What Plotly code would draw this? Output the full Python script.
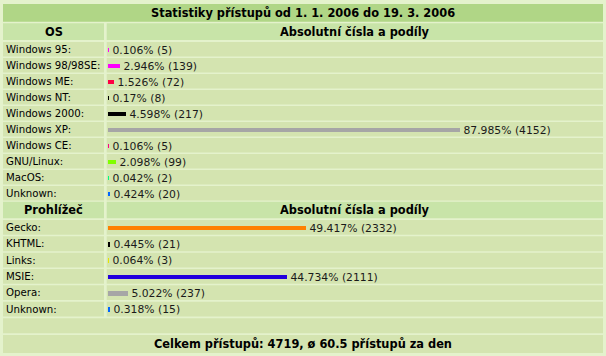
import plotly.graph_objects as go

title_text = "Statistiky přístupů od 1. 1. 2006 do 19. 3. 2006"
footer_text = "Celkem přístupů: 4719, ø 60.5 přístupů za den"
col_header = "Absolutní čísla a podíly"

os_header = "OS"
os_names = ["Windows 95:", "Windows 98/98SE:", "Windows ME:", "Windows NT:", "Windows 2000:",
            "Windows XP:", "Windows CE:", "GNU/Linux:", "MacOS:", "Unknown:"]
os_pct = [0.106, 2.946, 1.526, 0.17, 4.598, 87.985, 0.106, 2.098, 0.042, 0.424]
os_count = [5, 139, 72, 8, 217, 4152, 5, 99, 2, 20]
os_colors = ["#ff00ff", "#ff00ff", "#ff0044", "#000000", "#000000",
             "#a6a6a6", "#ff0088", "#80ff00", "#00ff80", "#0066ff"]

br_header = "Prohlížeč"
br_names = ["Gecko:", "KHTML:", "Links:", "MSIE:", "Opera:", "Unknown:"]
br_pct = [49.417, 0.445, 0.064, 44.734, 5.022, 0.318]
br_count = [2332, 21, 3, 2111, 237, 15]
br_colors = ["#ff8000", "#000000", "#e6e600", "#2200dd", "#a6a6a6", "#0066ff"]

W, H = 606, 356
BG = "#e4f2cc"
TITLE_BG = "#b0d686"
HEAD_BG = "#c8e4a8"
ROW_BG = "#d4e4b0"
FONT = "DejaVu Sans"

L0, L1 = 3, 104      # left column
R0, R1 = 106.7, 603  # right column
BAR0 = 108           # bar axis origin (px)
PX_PER_PCT = 4.0

shapes = []
annotations = []

def rect(x0, x1, y0, y1, color):
    shapes.append(dict(type="rect", xref="x", yref="y", x0=x0, x1=x1, y0=y0, y1=y1,
                       fillcolor=color, line=dict(width=0), layer="below"))

def text(x, y, s, anchor="left", bold=False, size=10.2):
    annotations.append(dict(x=x, y=y, xref="x", yref="y", text=("<b>%s</b>" % s) if bold else s,
                            showarrow=False, xanchor=anchor, yanchor="middle",
                            font=dict(family=FONT, size=size, color="#000000")))

HB = 11.4
# title
rect(L0, R1, 4, 21.7, TITLE_BG)
text((L0 + R1) / 2, 13, title_text, anchor="center", bold=True, size=HB)

# OS header
rect(L0, L1, 23.3, 40, HEAD_BG)
rect(R0, R1, 23.3, 40, HEAD_BG)
text((L0 + L1) / 2, 31.8, os_header, anchor="center", bold=True, size=HB)
text((R0 + R1) / 2, 31.8, col_header, anchor="center", bold=True, size=HB)

os_y = []
for i, name in enumerate(os_names):
    top = 42 + 16 * i
    bot = top + 14.6
    rect(L0, L1, top, bot, ROW_BG)
    rect(R0, R1, top, bot, ROW_BG)
    c = (top + bot) / 2
    os_y.append(c + 0.5)
    text(4, c, name)

# browser header
rect(L0, L1, 201.8, 218.2, HEAD_BG)
rect(R0, R1, 201.8, 218.2, HEAD_BG)
text((L0 + L1) / 2, 210, br_header, anchor="center", bold=True, size=HB)
text((R0 + R1) / 2, 210, col_header, anchor="center", bold=True, size=HB)

br_y = []
for j, name in enumerate(br_names):
    top = 220 + 16.33 * j
    bot = top + 14.8
    rect(L0, L1, top, bot, ROW_BG)
    rect(R0, R1, top, bot, ROW_BG)
    c = (top + bot) / 2
    br_y.append(c + 0.5)
    text(4, c, name)

# empty row + footer
rect(L0, R1, 318.3, 333.3, ROW_BG)
rect(L0, R1, 335, 353, ROW_BG)
text((L0 + R1) / 2, 344.3, footer_text, anchor="center", bold=True, size=HB)

fig = go.Figure()

def add_bars(pcts, counts, colors, ys):
    fig.add_trace(go.Bar(
        x=pcts, y=ys, orientation="h", width=4.6,
        marker=dict(color=colors, line=dict(width=0)),
        text=["\u00a0%s%% (%d)" % (format(p, "g"), c) for p, c in zip(pcts, counts)],
        textposition="outside", constraintext="none", cliponaxis=False,
        textfont=dict(family=FONT, size=10.8, color="#1a1a1a"),
        outsidetextfont=dict(family=FONT, size=10.8, color="#1a1a1a"),
        xaxis="x2", yaxis="y", hoverinfo="skip", showlegend=False,
    ))

add_bars(os_pct, os_count, os_colors, os_y)
add_bars(br_pct, br_count, br_colors, br_y)

fig.update_layout(
    width=W, height=H,
    margin=dict(l=0, r=0, t=0, b=0, autoexpand=False),
    paper_bgcolor=BG, plot_bgcolor="rgba(0,0,0,0)",
    showlegend=False,
    xaxis=dict(range=[0, W], domain=[0, 1], visible=False, fixedrange=True),
    xaxis2=dict(range=[0, (W - BAR0) / PX_PER_PCT], domain=[BAR0 / W, 1],
                anchor="y", visible=False, fixedrange=True),
    yaxis=dict(range=[H, 0], domain=[0, 1], visible=False, fixedrange=True),
    shapes=shapes,
    annotations=annotations,
    bargap=0,
)

fig.write_html("out.html", config={"displayModeBar": False},
               post_script="document.body.style.margin='0';document.body.style.background='%s';" % BG)
